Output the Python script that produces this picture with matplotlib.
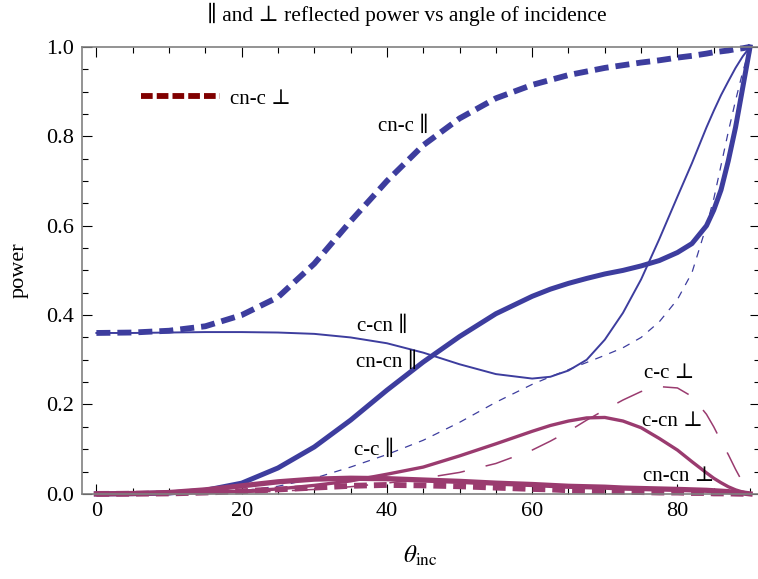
import numpy as np
import matplotlib
matplotlib.use("Agg")
import matplotlib.pyplot as plt
from matplotlib.lines import Line2D
from matplotlib.ticker import MultipleLocator

# angle of incidence (degrees)
theta = [0, 5, 10, 15, 20, 25, 30, 35, 40, 45, 50, 55, 60, 62.5, 65, 67.5, 70,
         72.5, 75, 77.5, 80, 82, 84, 85, 86, 87, 88, 89, 90]

# parallel polarisation
cn_c_par = [0.360, 0.361, 0.365, 0.375, 0.400, 0.440, 0.515, 0.610, 0.700, 0.780,
            0.840, 0.885, 0.915, 0.926, 0.937, 0.945, 0.953, 0.959, 0.965, 0.970,
            0.976, 0.980, 0.985, 0.988, 0.990, 0.992, 0.995, 0.997, 1.0]
c_cn_par = [0.360, 0.360, 0.361, 0.362, 0.362, 0.361, 0.358, 0.350, 0.337, 0.316,
            0.290, 0.268, 0.258, 0.262, 0.276, 0.300, 0.345, 0.405, 0.480, 0.570,
            0.665, 0.740, 0.820, 0.857, 0.892, 0.923, 0.953, 0.979, 1.0]
cn_cn_par = [0.0, 0.0005, 0.002, 0.008, 0.024, 0.058, 0.105, 0.165, 0.232, 0.295,
             0.352, 0.403, 0.442, 0.458, 0.471, 0.482, 0.492, 0.500, 0.510, 0.522,
             0.540, 0.560, 0.600, 0.635, 0.680, 0.745, 0.820, 0.910, 1.0]
c_c_par = [0.0, 0.0, 0.0005, 0.002, 0.007, 0.017, 0.035, 0.060, 0.088, 0.120,
           0.160, 0.205, 0.245, 0.262, 0.278, 0.294, 0.310, 0.327, 0.350, 0.385,
           0.435, 0.495, 0.600, 0.660, 0.735, 0.810, 0.880, 0.945, 1.0]

# perpendicular polarisation
c_c_perp = [0.0, 0.0, 0.0005, 0.001, 0.003, 0.006, 0.010, 0.016, 0.024, 0.035,
            0.048, 0.068, 0.098, 0.118, 0.140, 0.165, 0.188, 0.210, 0.229, 0.240,
            0.237, 0.218, 0.178, 0.150, 0.118, 0.088, 0.055, 0.025, 0.0]
c_cn_perp = [0.0, 0.0003, 0.001, 0.003, 0.006, 0.011, 0.019, 0.029, 0.044, 0.060,
             0.085, 0.112, 0.140, 0.153, 0.163, 0.170, 0.171, 0.163, 0.148, 0.124,
             0.098, 0.072, 0.047, 0.035, 0.025, 0.016, 0.009, 0.004, 0.0]
cn_cn_perp = [0.0, 0.0008, 0.003, 0.009, 0.018, 0.027, 0.033, 0.035, 0.034, 0.031,
              0.028, 0.024, 0.021, 0.019, 0.017, 0.016, 0.015, 0.013, 0.012, 0.011,
              0.010, 0.009, 0.008, 0.007, 0.006, 0.005, 0.003, 0.002, 0.0]
cn_c_perp = [0.0, 0.0003, 0.001, 0.003, 0.006, 0.010, 0.014, 0.018, 0.020, 0.019,
             0.017, 0.014, 0.011, 0.010, 0.008, 0.007, 0.006, 0.005, 0.004, 0.003,
             0.003, 0.002, 0.002, 0.001, 0.001, 0.001, 0.0005, 0.0002, 0.0]

# curve labels: text, x, y
labels = [
    ("cn-c \u2225", 42.2, 0.823),
    ("c-cn \u2225", 39.4, 0.374),
    ("cn-cn \u2225", 39.9, 0.295),
    ("c-c \u2225", 38.2, 0.098),
    ("c-c \u22a5", 78.8, 0.270),
    ("c-cn \u22a5", 79.3, 0.161),
    ("cn-cn \u22a5", 80.2, 0.038),
]

blue = "#3d3d9e"
purple = "#9a3b6f"
darkred = "#800000"

plt.rcParams["font.family"] = ["Liberation Serif", "DejaVu Serif"]
plt.rcParams["mathtext.fontset"] = "stix"

fig = plt.figure(figsize=(7.58, 5.79), dpi=100)
ax = fig.add_axes([0.108, 0.147, 0.894, 0.772])

ax.plot(theta, cn_c_par, color=blue, lw=4.2, dashes=(2.4, 1.2), clip_on=False)
ax.plot(theta, c_cn_par, color=blue, lw=1.4, clip_on=False)
ax.plot(theta, cn_cn_par, color=blue, lw=3.6, clip_on=False)
ax.plot(theta, c_c_par, color=blue, lw=0.9, dashes=(6, 6), clip_on=False)

ax.plot(theta, c_c_perp, color=purple, lw=1.1, dashes=(18, 14), clip_on=False)
ax.plot(theta, c_cn_perp, color=purple, lw=2.4, clip_on=False)
ax.plot(theta, cn_cn_perp, color=purple, lw=3.8, clip_on=False)
ax.plot(theta, cn_c_perp, color=purple, lw=4.2, dashes=(2.2, 1.2), clip_on=False)

for txt, x, y in labels:
    ax.text(x, y, txt, fontsize=15, ha="center", va="center")

handle = Line2D([], [], color=darkred, lw=4.2, dashes=(2.0, 0.7))
ax.legend([handle], ["cn-c \u22a5"], loc="center left", bbox_to_anchor=(0.087, 0.884),
          frameon=False, fontsize=15, handlelength=3.8, handletextpad=0.5,
          borderpad=0, borderaxespad=0)

ax.set_xlim(-2, 91.3)
ax.set_ylim(0, 1)
ax.xaxis.set_major_locator(MultipleLocator(20))
ax.xaxis.set_minor_locator(MultipleLocator(5))
ax.yaxis.set_major_locator(MultipleLocator(0.2))
ax.yaxis.set_minor_locator(MultipleLocator(0.05))
ax.yaxis.set_major_formatter(matplotlib.ticker.FormatStrFormatter("%.1f"))
ax.tick_params(which="both", direction="in", top=True, right=True,
               labelsize=16, color="black", width=0.8)
ax.tick_params(which="major", length=7, pad=6)
ax.tick_params(which="minor", length=4)
for s in ax.spines.values():
    s.set_color("#808080")
    s.set_linewidth(1.2)

ax.set_title("\u2225 and \u22a5 reflected power vs angle of incidence",
             fontsize=15.5, pad=19, x=0.48)
ax.set_ylabel("power", fontsize=16, labelpad=12)
ax.set_xlabel(r"$\theta_{\rm inc}$", fontsize=18, labelpad=16)

fig.savefig("out.png", dpi=100)
